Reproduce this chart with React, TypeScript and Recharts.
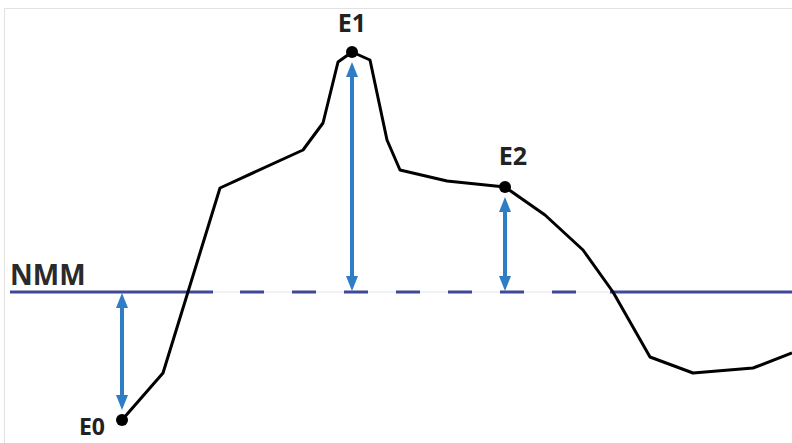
import React from 'react';
import { LineChart, Line, XAxis, YAxis, ReferenceLine } from 'recharts';

// reaction coordinate (arbitrary units) and energy relative to NMM
const coord = [12.2, 16.3, 22.0, 30.3, 32.3, 33.8, 35.2, 37.0, 38.7, 40.0, 44.7, 50.5, 54.5, 58.3, 61.3, 65.0, 69.3, 75.3, 79.2];
const energy = [-12.8, -8.1, 10.4, 14.2, 16.9, 23.0, 24.0, 23.2, 15.2, 12.2, 11.1, 10.5, 7.7, 4.2, 0, -6.5, -8.1, -7.6, -6.1];
const marks = ['E0', '', '', '', '', '', 'E1', '', '', '', '', 'E2', '', '', '', '', '', '', ''];

const nmmLabel = 'NMM';
const nmmSolidLeft = [1.0, 21.3];
const nmmDashed = [24.0, 57.6];
const nmmSolidRight = [61.0, 79.2];

const data = coord.map((x, i) => ({ x, energy: energy[i], mark: marks[i] }));
const marked = data.filter(d => d.mark);

const NMM_COLOR = '#40489a';
const ARROW_COLOR = '#2f7dc4';
const FONT = '"Open Sans", sans-serif';

// label offsets relative to the dot (px)
const labelOffset: Record<string, { dx: number; dy: number }> = {
  E0: { dx: -30, dy: 15 },
  E1: { dx: 0, dy: -20 },
  E2: { dx: 8, dy: -22 },
};

const MarkDot = (props: any) => {
  const { cx, cy, payload, index } = props;
  if (!payload.mark) return <g key={`d${index}`} />;
  const off = labelOffset[payload.mark];
  return (
    <g key={`d${index}`}>
      <circle cx={cx} cy={cy} r={6} fill="#000" />
      <text
        x={cx + off.dx}
        y={cy + off.dy}
        textAnchor="middle"
        fontFamily={FONT}
        fontWeight={700}
        fontSize={payload.mark === 'E0' ? 23 : 25}
        fill="#222"
      >
        {payload.mark}
      </text>
    </g>
  );
};

// vertical double-headed arrow, trimmed at the dot end
const Arrow = (props: any) => {
  const { x1, y1, x2, y2 } = props;
  if (x1 == null) return null;
  const x = x1;
  const dotY = y1;
  const dir = y2 > dotY ? 1 : -1; // from dot toward NMM
  const a = dotY + dir * 10;
  const b = y2 - dir * 1;
  const head = 15;
  const hw = 6;
  return (
    <g>
      <line x1={x} y1={a + dir * head} x2={x} y2={b - dir * head} stroke={ARROW_COLOR} strokeWidth={4} />
      <polygon points={`${x},${a} ${x - hw},${a + dir * head} ${x + hw},${a + dir * head}`} fill={ARROW_COLOR} />
      <polygon points={`${x},${b} ${x - hw},${b - dir * head} ${x + hw},${b - dir * head}`} fill={ARROW_COLOR} />
    </g>
  );
};

const NmmText = (props: any) => {
  const vb = props.viewBox || {};
  return (
    <text x={(vb.x ?? 10)} y={(vb.y ?? 292) - 7} fontFamily={FONT} fontWeight={700} fontSize={28} fill="#2a2a2a">
      {nmmLabel}
    </text>
  );
};

export default function App() {
  return (
    <div style={{ position: 'fixed', left: 0, top: 0, width: 792, height: 443, background: '#fff' }}>
      <div
        style={{
          position: 'absolute',
          left: 4,
          top: 8,
          right: 0,
          bottom: 0,
          borderTop: '1px solid #e2e2e2',
          borderLeft: '1px solid #e2e2e2',
        }}
      />
      <LineChart
        width={792}
        height={443}
        data={data}
        margin={{ top: 0, right: 0, bottom: 0, left: 0 }}
        style={{ position: 'absolute', left: 0, top: 0 }}
      >
        <XAxis dataKey="x" type="number" domain={[0, 79.2]} hide allowDataOverflow />
        <YAxis type="number" domain={[-15.1, 29.2]} hide allowDataOverflow />
        <ReferenceLine
          segment={[{ x: nmmSolidLeft[1], y: 0 }, { x: nmmSolidRight[0], y: 0 }]}
          stroke="#e3e5ef"
          strokeWidth={1}
        />
        <ReferenceLine
          segment={[{ x: nmmSolidLeft[0], y: 0 }, { x: nmmSolidLeft[1], y: 0 }]}
          stroke={NMM_COLOR}
          strokeWidth={3}
          label={<NmmText />}
        />
        <ReferenceLine
          segment={[{ x: nmmDashed[0], y: 0 }, { x: nmmDashed[1], y: 0 }]}
          stroke={NMM_COLOR}
          strokeWidth={3}
          strokeDasharray="24 28"
        />
        <ReferenceLine
          segment={[{ x: nmmSolidRight[0], y: 0 }, { x: nmmSolidRight[1], y: 0 }]}
          stroke={NMM_COLOR}
          strokeWidth={3}
        />
        {marked.map(d => (
          <ReferenceLine
            key={d.mark}
            segment={[{ x: d.x, y: d.energy }, { x: d.x, y: 0 }]}
            stroke={ARROW_COLOR}
            shape={<Arrow />}
          />
        ))}
        <Line
          type="linear"
          dataKey="energy"
          stroke="#000"
          strokeWidth={3}
          strokeLinejoin="round"
          dot={MarkDot}
          activeDot={false}
          isAnimationActive={false}
        />
      </LineChart>
    </div>
  );
}
